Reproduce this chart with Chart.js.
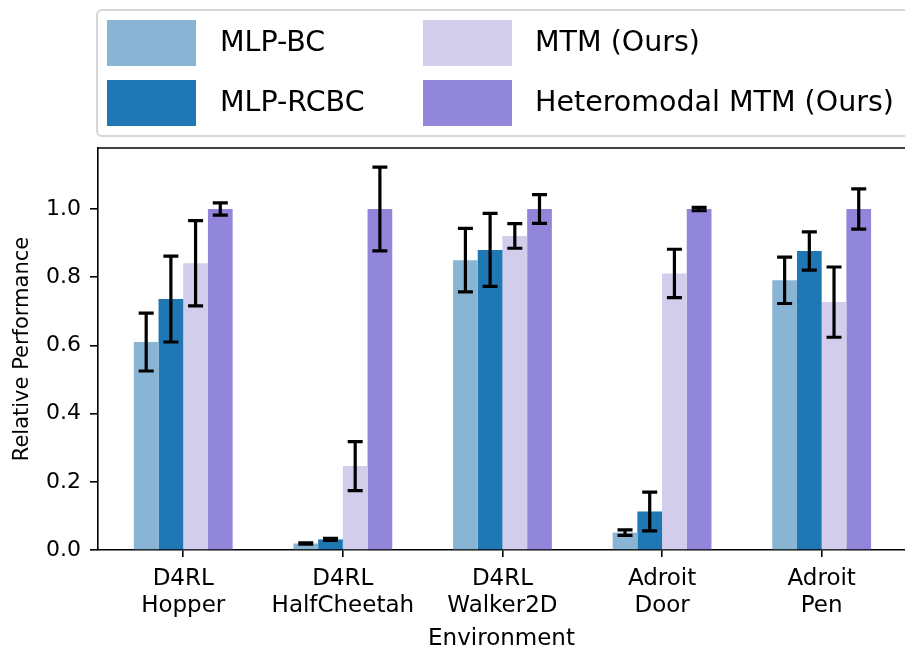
<!DOCTYPE html>
<html><head><meta charset="utf-8">
<script src="https://cdn.jsdelivr.net/npm/chart.js@4.4.0/dist/chart.umd.min.js"></script>
<style>html,body{margin:0;padding:0;background:#fff;}#wrap{width:905px;height:648px;}</style>
</head><body><div id="wrap"><canvas id="c" width="905" height="648"></canvas></div>
<script>
const environments = [['D4RL','Hopper'],['D4RL','HalfCheetah'],['D4RL','Walker2D'],['Adroit','Door'],['Adroit','Pen']];
const seriesNames = ['MLP-BC','MLP-RCBC','MTM (Ours)','Heteromodal MTM (Ours)'];
const seriesColors = ['#89b4d4','#1f77b4','#d1cdea','#9286da'];
const mlpBC = [0.610, 0.019, 0.850, 0.051, 0.791];
const mlpBCErr = [0.085, 0.002, 0.093, 0.008, 0.068];
const mlpRCBC = [0.736, 0.031, 0.880, 0.113, 0.877];
const mlpRCBCErr = [0.126, 0.003, 0.107, 0.057, 0.056];
const mtm = [0.841, 0.246, 0.921, 0.811, 0.727];
const mtmErr = [0.125, 0.072, 0.036, 0.071, 0.103];
const hetero = [1.0, 1.0, 1.0, 1.0, 1.0];
const heteroErr = [0.018, 0.123, 0.042, 0.005, 0.059];
const yTicks = [0, 0.2, 0.4, 0.6, 0.8, 1.0];

const values = [mlpBC, mlpRCBC, mtm, hetero];
const errors = [mlpBCErr, mlpRCBCErr, mtmErr, heteroErr];
const FONT = 'DejaVu Sans';

const errorBarPlugin = {
  id: 'errbars',
  afterDatasetsDraw(chart) {
    const ctx = chart.ctx, y = chart.scales.y;
    ctx.save();
    ctx.strokeStyle = '#000';
    ctx.lineWidth = 3.2;
    ctx.lineCap = 'butt';
    chart.data.datasets.forEach((ds, di) => {
      const meta = chart.getDatasetMeta(di);
      meta.data.forEach((bar, i) => {
        const v = values[di][i], e = errors[di][i];
        const yt = y.getPixelForValue(v + e), yb = y.getPixelForValue(v - e);
        const x = bar.x, cw = 7.5;
        ctx.beginPath();
        ctx.moveTo(x, yt); ctx.lineTo(x, yb);
        ctx.moveTo(x - cw, yt); ctx.lineTo(x + cw, yt);
        ctx.moveTo(x - cw, yb); ctx.lineTo(x + cw, yb);
        ctx.stroke();
      });
    });
    ctx.restore();
  }
};

const framePlugin = {
  id: 'frame',
  afterDraw(chart) {
    const ctx = chart.ctx, a = chart.chartArea;
    ctx.save();
    ctx.strokeStyle = '#000';
    ctx.lineWidth = 1.6;
    ctx.beginPath();
    ctx.moveTo(a.left - 0.8, a.top); ctx.lineTo(a.right + 2, a.top);
    ctx.stroke();
    // legend
    ctx.strokeStyle = '#d6d6d6';
    ctx.lineWidth = 2;
    ctx.fillStyle = '#fff';
    ctx.beginPath();
    ctx.roundRect(97, 10, 840, 126, 5);
    ctx.fill(); ctx.stroke();
    const cols = [[107, 220], [423, 535]];
    const rows = [20, 80];
    ctx.font = '28.5px "' + FONT + '"';
    ctx.textBaseline = 'middle';
    ctx.textAlign = 'left';
    seriesNames.forEach((name, k) => {
      const c = cols[Math.floor(k / 2)], r = rows[k % 2];
      ctx.fillStyle = seriesColors[k];
      ctx.fillRect(c[0], r, 89, 46);
      ctx.fillStyle = '#000';
      ctx.fillText(name, c[1], r + 24);
    });
    ctx.restore();
  }
};

new Chart(document.getElementById('c'), {
  type: 'bar',
  data: {
    datasets: seriesNames.map((n, k) => ({
      label: n,
      data: values[k].map((v, i) => ({x: i, y: v})),
      backgroundColor: seriesColors[k],
      borderWidth: 0
    }))
  },
  options: {
    responsive: false,
    animation: false,
    devicePixelRatio: 1,
    layout: {padding: {top: 148, left: 0, right: 0, bottom: 0}},
    plugins: {legend: {display: false}, tooltip: {enabled: false}},
    datasets: {bar: {categoryPercentage: 0.619, barPercentage: 1.0}},
    scales: {
      x: {
        type: 'linear', min: -0.534, max: 4.522, offset: false,
        afterBuildTicks: s => { s.ticks = environments.map((e, i) => ({value: i})); },
        afterFit: s => { s.height = 98; },
        ticks: {
          callback: v => environments[v],
          autoSkip: false, maxRotation: 0, color: '#000', padding: 8,
          font: {family: FONT, size: 23, lineHeight: 1.2}
        },
        grid: {offset: false, drawOnChartArea: false, drawTicks: true, tickLength: 7, color: '#000', lineWidth: 1.6},
        border: {display: true, color: '#000', width: 1.6},
        title: {display: true, text: 'Environment', color: '#000', font: {family: FONT, size: 23}, padding: {top: 0, bottom: -5}}
      },
      y: {
        min: 0, max: 1.179,
        afterBuildTicks: s => { s.ticks = yTicks.map(v => ({value: v})); },
        afterFit: s => { s.width = 98; },
        ticks: {
          callback: v => v.toFixed(1), color: '#000', padding: 9,
          font: {family: FONT, size: 22}
        },
        grid: {drawOnChartArea: false, drawTicks: true, tickLength: 8, color: '#000', lineWidth: 1.6},
        border: {display: true, color: '#000', width: 1.6},
        title: {display: true, text: 'Relative Performance', color: '#000', font: {family: FONT, size: 21}, padding: {top: 10, bottom: 0}}
      }
    }
  },
  plugins: [errorBarPlugin, framePlugin]
});
</script>
</body></html>
